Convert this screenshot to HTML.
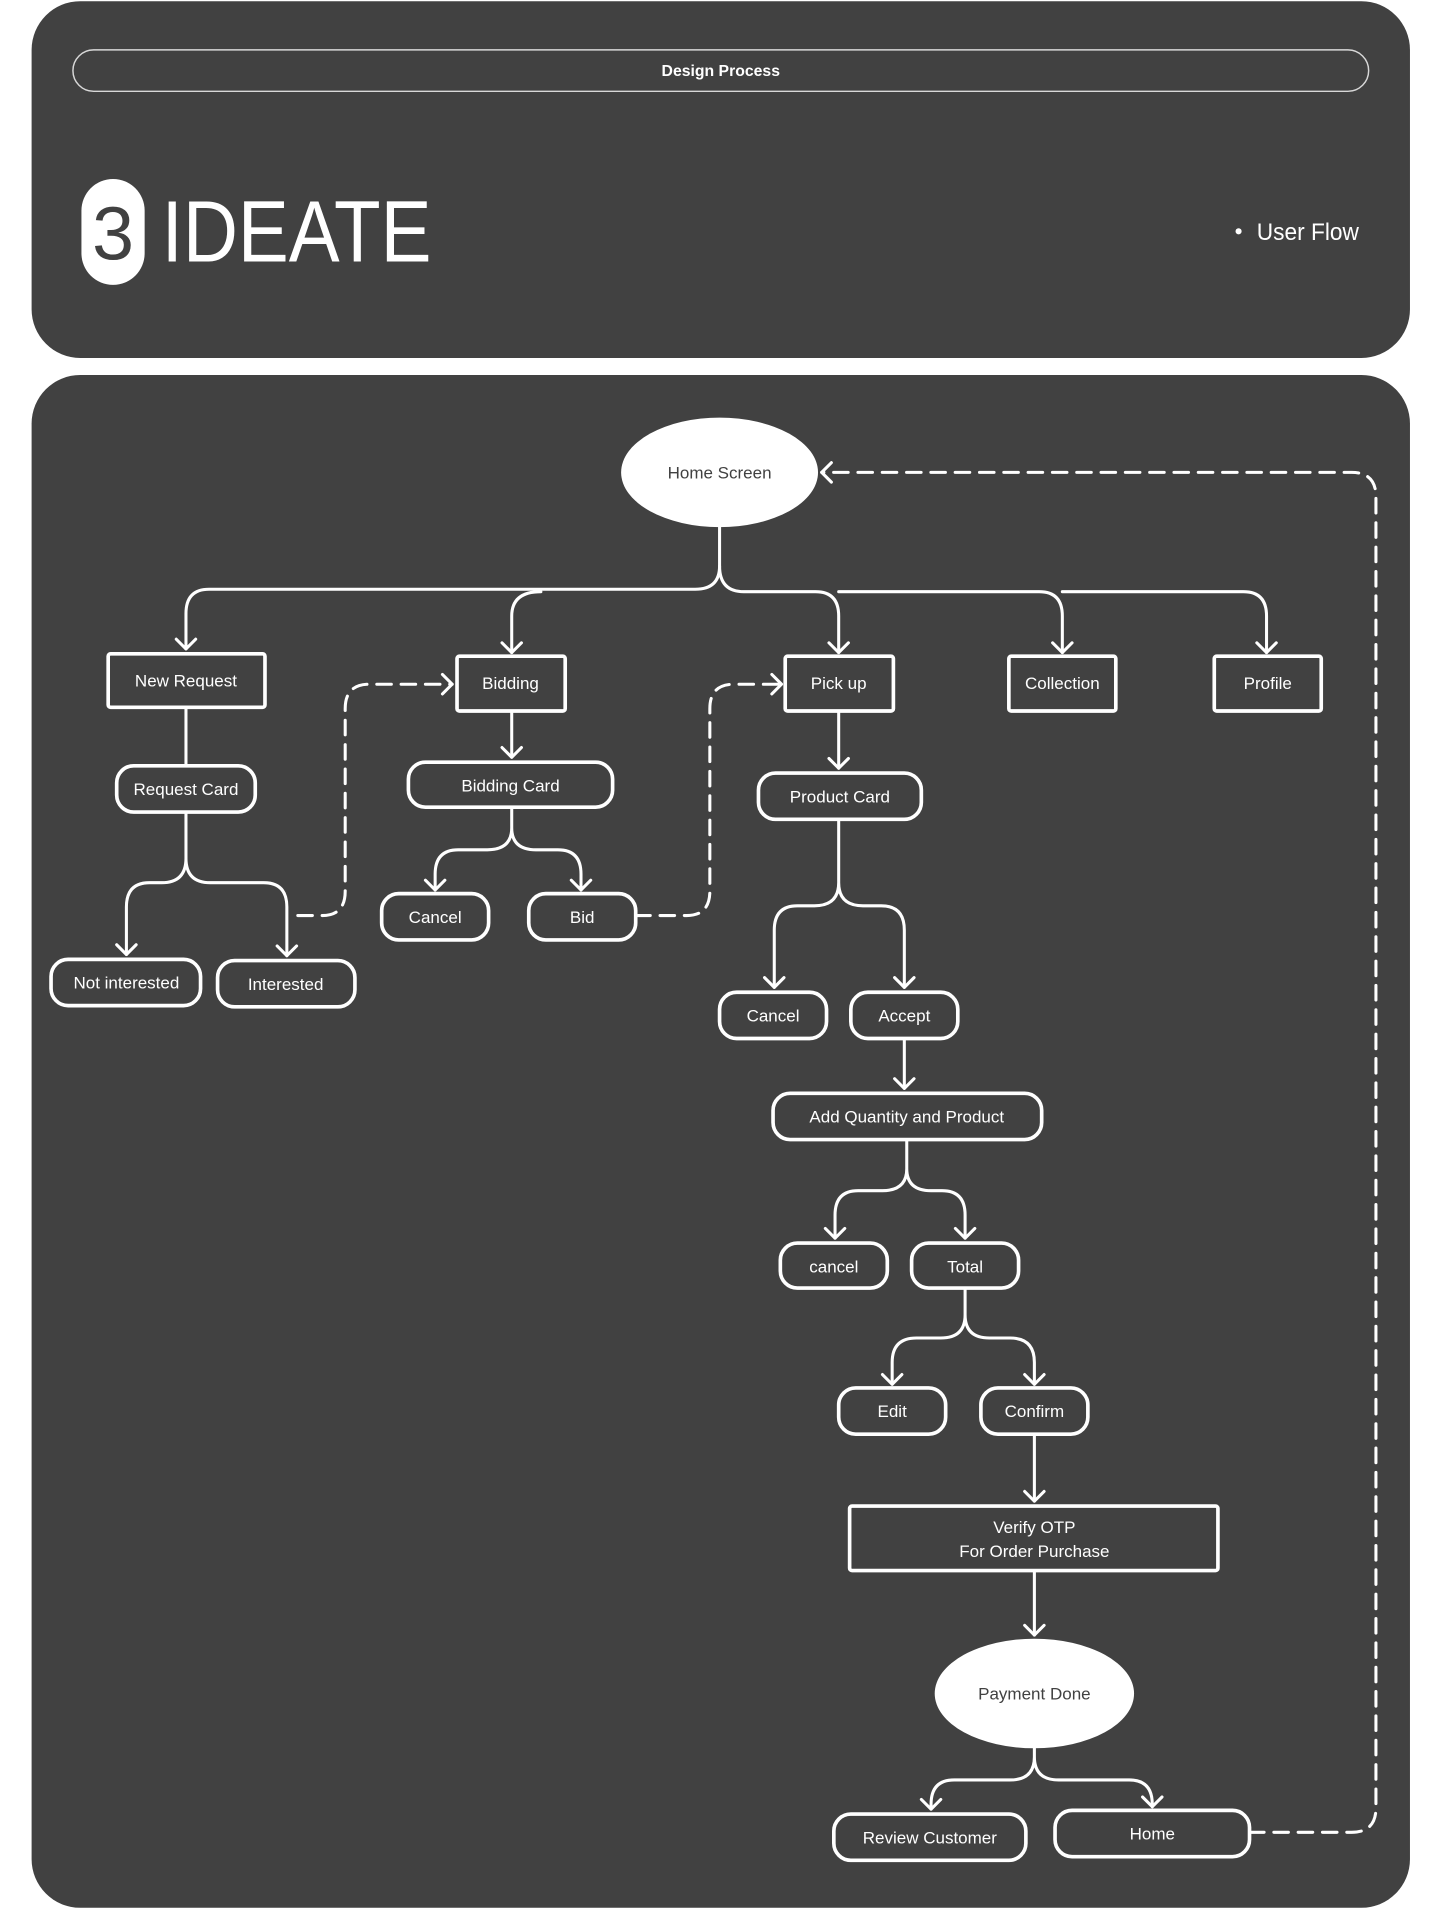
<!DOCTYPE html>
<html><head><meta charset="utf-8"><style>
html,body{margin:0;padding:0;background:#fff;}
svg{display:block;}
text{font-family:"Liberation Sans",sans-serif;}
</style></head><body>
<svg width="1444" height="1909" viewBox="0 0 1188 1568" preserveAspectRatio="none" xmlns="http://www.w3.org/2000/svg">
<rect x="0" y="0" width="1188" height="1568" fill="#fff"/>
<rect x="26" y="1" width="1134" height="293" rx="40" fill="#414141"/>
<rect x="60" y="41" width="1066" height="34" rx="17" fill="none" stroke="#d8d8d8" stroke-width="1.2"/>
<text x="593" y="62.5" font-size="13" font-weight="bold" fill="#fff" text-anchor="middle">Design Process</text>
<rect x="67" y="147" width="52" height="87" rx="26" fill="#fff"/>
<text x="93" y="213" font-size="62" fill="#414141" text-anchor="middle">3</text>
<text x="133" y="215" font-size="72" fill="#fff" textLength="222" lengthAdjust="spacingAndGlyphs">IDEATE</text>
<circle cx="1019" cy="190" r="2.5" fill="#fff"/>
<text x="1034" y="197" font-size="20" fill="#fff" textLength="84" lengthAdjust="spacingAndGlyphs">User Flow</text>

<rect x="26" y="308" width="1134" height="1259" rx="40" fill="#414141"/>

<g fill="none" stroke="#fff" stroke-width="2.5" stroke-linecap="round" stroke-linejoin="round">
<path d="M592 433 V465 Q592 484 572 484 H172 Q153 484 153 504 V533"/>
<path d="M445 486 Q421 486 421 506 V536"/>
<path d="M592 465 Q592 486 612 486 H671 Q690 486 690 506 V536 M690 486 H855 Q874 486 874 506 V536 M874 486 H1023 Q1042 486 1042 506 V536"/>
<path d="M153 581 V629"/>
<path d="M153 667 V705 Q153 725 133 725 H123 Q104 725 104 745 V784 M153 705 Q153 725 173 725 H217 Q236 725 236 745 V785"/>
<path d="M421 584 V622"/>
<path d="M421 663 V680 Q421 698 401 698 H377 Q358 698 358 718 V731 M421 680 Q421 698 441 698 H459 Q478 698 478 718 V731"/>
<path d="M690 584 V631"/>
<path d="M690 673 V725 Q690 744 670 744 H656 Q637 744 637 764 V811 M690 725 Q690 744 710 744 H725 Q744 744 744 764 V811"/>
<path d="M744 853 V894"/>
<path d="M746 936 V960 Q746 978 726 978 H706 Q687 978 687 998 V1017 M746 960 Q746 978 766 978 H775 Q794 978 794 998 V1017"/>
<path d="M794 1058 V1080 Q794 1099 774 1099 H754 Q734 1099 734 1119 V1137 M794 1080 Q794 1099 814 1099 H831 Q851 1099 851 1119 V1137"/>
<path d="M851 1178 V1233"/>
<path d="M851 1290 V1343"/>
<path d="M851 1436 V1443 Q851 1462 831 1462 H785 Q766 1462 766 1482 V1486 M851 1443 Q851 1462 871 1462 H929 Q948 1462 948 1482 V1484"/>
<path d="M145 525 L153 533 L161 525 M413 528 L421 536 L429 528 M682 528 L690 536 L698 528 M866 528 L874 536 L882 528 M1034 528 L1042 536 L1050 528 M96 776 L104 784 L112 776 M228 777 L236 785 L244 777 M413 614 L421 622 L429 614 M350 723 L358 731 L366 723 M470 723 L478 731 L486 723 M682 623 L690 631 L698 623 M629 803 L637 811 L645 803 M736 803 L744 811 L752 803 M736 886 L744 894 L752 886 M679 1009 L687 1017 L695 1009 M786 1009 L794 1017 L802 1009 M726 1129 L734 1137 L742 1129 M843 1129 L851 1137 L859 1129 M843 1225 L851 1233 L859 1225 M843 1335 L851 1343 L859 1335 M758 1478 L766 1486 L774 1478 M940 1476 L948 1484 L956 1476"/>
<g stroke-dasharray="12 8">
<path d="M245 752 H265 Q284 752 284 732 V582 Q284 562 304 562 H372"/>
<path d="M523 752 H565 Q584 752 584 732 V582 Q584 562 604 562 H643"/>
<path d="M1028 1505 H1112 Q1132 1505 1132 1485 V408 Q1132 388 1112 388 H676"/>
</g>
<path d="M364 554 L372 562 L364 570 M635 554 L643 562 L635 570 M684 380 L676 388 L684 396"/>
</g>

<ellipse cx="592" cy="388" rx="81" ry="45" fill="#fff"/>
<ellipse cx="851" cy="1391" rx="82" ry="45" fill="#fff"/>

<g fill="none" stroke="#fff" stroke-width="3">
<rect x="89" y="537" width="129" height="44" rx="2"/>
<rect x="96" y="629" width="114" height="38" rx="14"/>
<rect x="42" y="788" width="123" height="38" rx="14"/>
<rect x="179" y="789" width="113" height="38" rx="14"/>
<rect x="376" y="539" width="89" height="45" rx="2"/>
<rect x="336" y="626" width="168" height="37" rx="14"/>
<rect x="314" y="734" width="88" height="38" rx="14"/>
<rect x="435" y="734" width="88" height="38" rx="14"/>
<rect x="646" y="539" width="89" height="45" rx="2"/>
<rect x="830" y="539" width="88" height="45" rx="2"/>
<rect x="999" y="539" width="88" height="45" rx="2"/>
<rect x="624" y="635" width="134" height="38" rx="14"/>
<rect x="592" y="815" width="88" height="38" rx="14"/>
<rect x="700" y="815" width="88" height="38" rx="14"/>
<rect x="636" y="898" width="221" height="38" rx="14"/>
<rect x="642" y="1021" width="88" height="37" rx="14"/>
<rect x="750" y="1021" width="88" height="37" rx="14"/>
<rect x="690" y="1140" width="88" height="38" rx="14"/>
<rect x="807" y="1140" width="88" height="38" rx="14"/>
<rect x="699" y="1237" width="303" height="53" rx="2"/>
<rect x="686" y="1490" width="158" height="38" rx="14"/>
<rect x="868" y="1487" width="160" height="38" rx="14"/>
</g>

<g font-size="14" fill="#fff" text-anchor="middle">
<text x="153" y="564">New Request</text>
<text x="153" y="653">Request Card</text>
<text x="104" y="812">Not interested</text>
<text x="235" y="813">Interested</text>
<text x="420" y="566">Bidding</text>
<text x="420" y="650">Bidding Card</text>
<text x="358" y="758">Cancel</text>
<text x="479" y="758">Bid</text>
<text x="690" y="566">Pick up</text>
<text x="874" y="566">Collection</text>
<text x="1043" y="566">Profile</text>
<text x="691" y="659">Product Card</text>
<text x="636" y="839">Cancel</text>
<text x="744" y="839">Accept</text>
<text x="746" y="922">Add Quantity and Product</text>
<text x="686" y="1045">cancel</text>
<text x="794" y="1045">Total</text>
<text x="734" y="1164">Edit</text>
<text x="851" y="1164">Confirm</text>
<text x="851" y="1259">Verify OTP</text>
<text x="851" y="1279">For Order Purchase</text>
<text x="765" y="1514">Review Customer</text>
<text x="948" y="1511">Home</text>
<text x="592" y="393" fill="#414141">Home Screen</text>
<text x="851" y="1396" fill="#414141">Payment Done</text>
</g>
</svg>
</body></html>
